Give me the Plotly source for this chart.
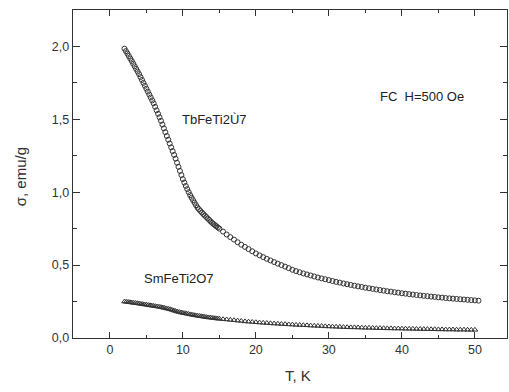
import plotly.graph_objects as go

# Temperature (K) and magnetization (emu/g)
t_tb = [2.0, 2.2, 2.4, 2.6, 2.8, 3.0, 3.2, 3.4, 3.6, 3.8, 4.0, 4.2, 4.4, 4.6, 4.8,
        5.0, 5.2, 5.4, 5.6, 5.8, 6.0, 6.2, 6.4, 6.6, 6.8, 7.0, 7.2, 7.4, 7.6, 7.8,
        8.0, 8.2, 8.4, 8.6, 8.8, 9.0, 9.2, 9.4, 9.6, 9.8, 10.0, 10.2, 10.4, 10.6, 10.8,
        11.0, 11.2, 11.4, 11.6, 11.8, 12.0, 12.2, 12.4, 12.6, 12.8, 13.0, 13.2, 13.4, 13.6, 13.8,
        14.0, 14.2, 14.4, 14.6, 14.8, 15.0, 15.5, 16.0, 16.5,
        17.0, 17.5, 18.0, 18.5, 19.0, 19.5, 20.0, 20.5, 21.0, 21.5, 22.0, 22.5, 23.0, 23.5,
        24.0, 24.5, 25.0, 25.5, 26.0, 26.5, 27.0, 27.5, 28.0, 28.5, 29.0, 29.5, 30.0, 30.5,
        31.0, 31.5, 32.0, 32.5, 33.0, 33.5, 34.0, 34.5, 35.0, 35.5, 36.0, 36.5, 37.0, 37.5,
        38.0, 38.5, 39.0, 39.5, 40.0, 40.5, 41.0, 41.5, 42.0, 42.5, 43.0, 43.5, 44.0, 44.5,
        45.0, 45.5, 46.0, 46.5, 47.0, 47.5, 48.0, 48.5, 49.0, 49.5, 50.0, 50.5]
sigma_tb = [1.985, 1.968, 1.951, 1.934, 1.917, 1.900, 1.882, 1.864, 1.846, 1.828, 1.810, 1.790,
            1.770, 1.750, 1.730, 1.710, 1.690, 1.670, 1.650, 1.630, 1.610, 1.586, 1.562, 1.538,
            1.514, 1.490, 1.464, 1.438, 1.412, 1.386, 1.360, 1.334, 1.308, 1.282, 1.256, 1.230,
            1.202, 1.174, 1.146, 1.118, 1.090, 1.066, 1.043, 1.021, 1.000, 0.980, 0.962, 0.945,
            0.928, 0.911, 0.895, 0.883, 0.872, 0.861, 0.850, 0.840, 0.830, 0.820, 0.810, 0.800,
            0.790, 0.782, 0.774, 0.766, 0.758, 0.750, 0.730, 0.710, 0.692,
            0.675, 0.657, 0.640, 0.625, 0.610, 0.595,
            0.580, 0.567, 0.555, 0.543, 0.532, 0.521, 0.510, 0.500, 0.490, 0.479, 0.468, 0.459,
            0.451, 0.443, 0.436, 0.429, 0.422, 0.415, 0.409, 0.403, 0.397, 0.391, 0.385, 0.380,
            0.374, 0.369, 0.364, 0.359, 0.354, 0.350, 0.345, 0.341, 0.337, 0.333, 0.329, 0.325,
            0.321, 0.318, 0.314, 0.311, 0.307, 0.304, 0.301, 0.298, 0.295, 0.292, 0.289, 0.287,
            0.284, 0.282, 0.279, 0.277, 0.274, 0.272, 0.270, 0.268, 0.266, 0.264, 0.262, 0.260,
            0.258, 0.256]

t_sm = [2.0, 2.25, 2.5, 2.75, 3.0, 3.25, 3.5, 3.75, 4.0, 4.25, 4.5, 4.75, 5.0, 5.25, 5.5, 5.75,
        6.0, 6.25, 6.5, 6.75, 7.0, 7.25, 7.5, 7.75, 8.0, 8.25, 8.5, 8.75, 9.0, 9.25, 9.5, 9.75,
        10.0, 10.25, 10.5, 10.75, 11.0, 11.25, 11.5, 11.75, 12.0, 12.25, 12.5, 12.75,
        13.0, 13.25, 13.5, 13.75, 14.0, 14.25, 14.5, 14.75, 15.0, 15.5, 16.0, 16.5,
        17.0, 17.5, 18.0, 18.5, 19.0, 19.5, 20.0, 20.5, 21.0, 21.5, 22.0, 22.5, 23.0, 23.5,
        24.0, 24.5, 25.0, 25.5, 26.0, 26.5, 27.0, 27.5, 28.0, 28.5, 29.0, 29.5, 30.0, 30.5,
        31.0, 31.5, 32.0, 32.5, 33.0, 33.5, 34.0, 34.5, 35.0, 35.5, 36.0, 36.5, 37.0, 37.5,
        38.0, 38.5, 39.0, 39.5, 40.0, 40.5, 41.0, 41.5, 42.0, 42.5, 43.0, 43.5, 44.0, 44.5,
        45.0, 45.5, 46.0, 46.5, 47.0, 47.5, 48.0, 48.5, 49.0, 49.5, 50.0]
sigma_sm = [0.250, 0.248, 0.247, 0.245, 0.243, 0.241, 0.240, 0.238, 0.236, 0.234, 0.232, 0.230,
            0.228, 0.226, 0.224, 0.222, 0.220, 0.218, 0.216, 0.214, 0.212, 0.209, 0.206, 0.203,
            0.200, 0.197, 0.193, 0.189, 0.185, 0.181, 0.178, 0.175, 0.172, 0.170, 0.167, 0.165,
            0.162, 0.160, 0.157, 0.155, 0.153, 0.151, 0.149, 0.147, 0.145, 0.143, 0.141, 0.140,
            0.138, 0.136, 0.135, 0.133, 0.132, 0.129, 0.127, 0.124, 0.122, 0.119, 0.117, 0.114,
            0.112, 0.110,
            0.108, 0.106, 0.104, 0.103, 0.101, 0.099, 0.098, 0.096, 0.095, 0.093, 0.092, 0.090,
            0.089, 0.088, 0.087, 0.085, 0.084, 0.083, 0.082, 0.080, 0.079, 0.078, 0.077, 0.076,
            0.075, 0.074, 0.073, 0.073, 0.072, 0.071, 0.070, 0.070, 0.069, 0.068, 0.068, 0.067,
            0.066, 0.066, 0.065, 0.065, 0.064, 0.064, 0.063, 0.063, 0.062, 0.062, 0.061, 0.061,
            0.060, 0.060, 0.059, 0.059, 0.058, 0.058, 0.058, 0.057, 0.057, 0.057, 0.056, 0.056,
            0.056]

x_tickvals = [0, 10, 20, 30, 40, 50]
x_ticktext = ["0", "10", "20", "30", "40", "50"]
y_tickvals = [0.0, 0.5, 1.0, 1.5, 2.0]
y_ticktext = ["0,0", "0,5", "1,0", "1,5", "2,0"]

label_tb = "TbFeTi2Ù7"
label_sm = "SmFeTi2O7"
label_cond = "FC\u00a0\u00a0H=500 Oe"
x_title = "T, K"
y_title = "σ, emu/g"

ink = "#333333"
font = "Liberation Sans, Arial, sans-serif"

fig = go.Figure()
fig.add_trace(go.Scatter(
    x=t_tb, y=sigma_tb, mode="markers",
    marker=dict(symbol="circle-open", size=5, color=ink, line=dict(width=1, color=ink)),
    showlegend=False))
fig.add_trace(go.Scatter(
    x=t_sm, y=sigma_sm, mode="markers",
    marker=dict(symbol="triangle-up-open", size=5, color=ink, line=dict(width=1, color=ink)),
    showlegend=False))

txt = dict(family=font, size=13, color="#222")
fig.add_annotation(x=14.4, y=1.50, text=label_tb, showarrow=False, font=txt)
fig.add_annotation(x=9.45, y=0.405, text=label_sm, showarrow=False, font=txt)
fig.add_annotation(x=42.7, y=1.655, text=label_cond, showarrow=False, font=txt)

# axis titles placed relative to the plot area
title_font = dict(family=font, size=15, color="#333")
fig.add_annotation(xref="paper", yref="paper", x=0.518, y=0, yshift=-37,
                   text=x_title, showarrow=False, font=title_font,
                   xanchor="center", yanchor="middle")
fig.add_annotation(xref="paper", yref="paper", x=0, y=0.49, xshift=-53,
                   text=y_title, showarrow=False, font=title_font, textangle=-90,
                   xanchor="center", yanchor="middle")

axis_common = dict(
    showline=True, linecolor=ink, linewidth=1.3, mirror="allticks",
    ticks="inside", tickcolor=ink, tickwidth=1.2, showgrid=False, zeroline=False,
    tickfont=dict(family=font, size=12.5, color="#333"), automargin=False,
)

fig.update_xaxes(
    range=[-5.05, 54.4], tickvals=x_tickvals, ticktext=x_ticktext, ticklen=6,
    minor=dict(ticks="inside", ticklen=3, dtick=5, tick0=0, tickcolor=ink, tickwidth=1.2),
    **axis_common)
fig.update_yaxes(
    range=[0, 2.25], tickvals=y_tickvals, ticktext=y_ticktext, ticklen=7,
    minor=dict(ticks="inside", ticklen=4, dtick=0.25, tick0=0, tickcolor=ink, tickwidth=1.2),
    **axis_common)

fig.update_layout(
    width=509, height=392,
    margin=dict(l=73, r=2, t=10, b=54),
    plot_bgcolor="white", paper_bgcolor="white",
    font=dict(family=font),
)

fig.write_html(
    "out.html",
    config={"displayModeBar": False, "staticPlot": True},
    post_script="document.body.style.margin='0';document.body.style.overflow='hidden';",
)
